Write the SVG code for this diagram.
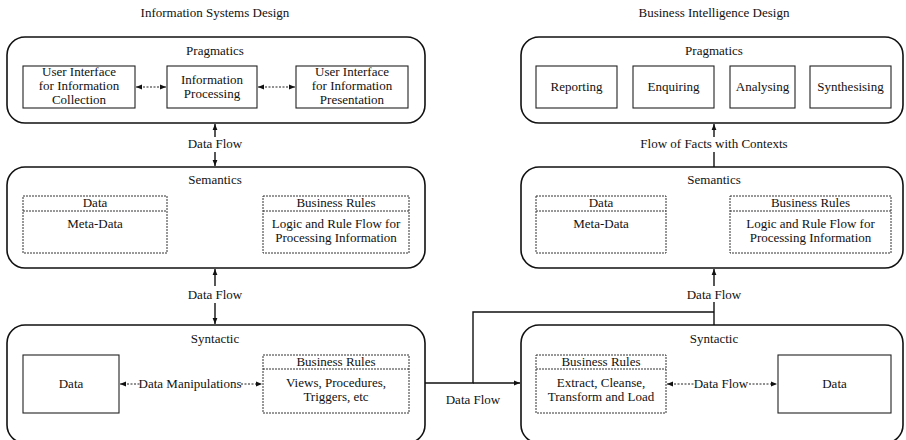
<svg xmlns="http://www.w3.org/2000/svg" width="906" height="440" viewBox="0 0 906 440">
<defs>
<marker id="ah" viewBox="0 0 10 10" refX="10" refY="5" markerWidth="6" markerHeight="6" orient="auto-start-reverse" markerUnits="userSpaceOnUse">
<path d="M0,1 L10,5 L0,9 z" fill="#111"/>
</marker>
<style>
text{font-family:'Liberation Serif','DejaVu Serif',serif;font-size:13px;fill:#111;text-anchor:middle}
.outer{fill:none;stroke:#111;stroke-width:1.6}
.box{fill:#fff;stroke:#222;stroke-width:1.1}
.dbox{fill:#fff;stroke:#333;stroke-width:1;stroke-dasharray:2,1}
.dl{stroke:#333;stroke-width:1;stroke-dasharray:2,1;fill:none}
.con{stroke:#111;stroke-width:1.4;fill:none}
.dcon{stroke:#222;stroke-width:1;stroke-dasharray:2,1.5;fill:none}
</style>
</defs>
<rect width="906" height="440" fill="#fff"/>
<g font-family="Liberation Serif, serif" font-size="13">
<text x="215" y="17">Information Systems Design</text>
<text x="714" y="17">Business Intelligence Design</text>

<g id="left-pragmatics">
<rect class="outer" x="7" y="37" width="418" height="86" rx="18"/>
<text x="215" y="55">Pragmatics</text>
<rect class="box" x="23" y="66" width="112" height="42"/>
<text x="79" y="76">User Interface</text>
<text x="79" y="90">for Information</text>
<text x="79" y="104">Collection</text>
<rect class="box" x="167" y="66" width="90" height="42"/>
<text x="212" y="84">Information</text>
<text x="212" y="98">Processing</text>
<rect class="box" x="296" y="66" width="112" height="42"/>
<text x="352" y="76">User Interface</text>
<text x="352" y="90">for Information</text>
<text x="352" y="104">Presentation</text>
</g>

<g id="left-semantics">
<rect class="outer" x="7" y="167" width="418" height="101" rx="18"/>
<text x="215" y="184">Semantics</text>
<rect class="dbox" x="23" y="196" width="144" height="57"/>
<line class="dl" x1="23" y1="211" x2="167" y2="211"/>
<text x="95" y="207">Data</text>
<text x="95" y="228">Meta-Data</text>
<rect class="dbox" x="263" y="196" width="146" height="57"/>
<line class="dl" x1="263" y1="211" x2="409" y2="211"/>
<text x="336" y="207">Business Rules</text>
<text x="336" y="228">Logic and Rule Flow for</text>
<text x="336" y="242">Processing Information</text>
</g>

<g id="left-syntactic">
<rect class="outer" x="7" y="325" width="418" height="118" rx="18"/>
<text x="215" y="343">Syntactic</text>
<rect class="box" x="23" y="355" width="96" height="58"/>
<text x="71" y="388">Data</text>
<rect class="dbox" x="263" y="355" width="146" height="58"/>
<line class="dl" x1="263" y1="369" x2="409" y2="369"/>
<text x="336" y="366">Business Rules</text>
<text x="336" y="387">Views, Procedures,</text>
<text x="336" y="401">Triggers, etc</text>
</g>

<g id="right-pragmatics">
<rect class="outer" x="521" y="37" width="382" height="86" rx="18"/>
<text x="714" y="55">Pragmatics</text>
<rect class="box" x="536" y="66" width="81" height="42"/>
<text x="576.5" y="91">Reporting</text>
<rect class="box" x="633" y="66" width="81" height="42"/>
<text x="673.5" y="91">Enquiring</text>
<rect class="box" x="730" y="66" width="65" height="42"/>
<text x="762.5" y="91">Analysing</text>
<rect class="box" x="810" y="66" width="81" height="42"/>
<text x="850.5" y="91">Synthesising</text>
</g>

<g id="right-semantics">
<rect class="outer" x="521" y="167" width="382" height="101" rx="18"/>
<text x="714" y="184">Semantics</text>
<rect class="dbox" x="536" y="196" width="130" height="57"/>
<line class="dl" x1="536" y1="211" x2="666" y2="211"/>
<text x="601" y="207">Data</text>
<text x="601" y="228">Meta-Data</text>
<rect class="dbox" x="730" y="196" width="161" height="57"/>
<line class="dl" x1="730" y1="211" x2="891" y2="211"/>
<text x="810.5" y="207">Business Rules</text>
<text x="810.5" y="228">Logic and Rule Flow for</text>
<text x="810.5" y="242">Processing Information</text>
</g>

<g id="right-syntactic">
<rect class="outer" x="521" y="325" width="382" height="118" rx="18"/>
<text x="714" y="343">Syntactic</text>
<rect class="dbox" x="536" y="355" width="130" height="58"/>
<line class="dl" x1="536" y1="369" x2="666" y2="369"/>
<text x="601" y="366">Business Rules</text>
<text x="601" y="387">Extract, Cleanse,</text>
<text x="601" y="401">Transform and Load</text>
<rect class="box" x="778" y="355" width="113" height="58"/>
<text x="834.5" y="388">Data</text>
</g>

<g id="connectors">
<line class="dcon" x1="136" y1="87" x2="166" y2="87" marker-start="url(#ah)" marker-end="url(#ah)"/>
<line class="dcon" x1="258" y1="87" x2="295" y2="87" marker-start="url(#ah)" marker-end="url(#ah)"/>
<line class="con" x1="215" y1="124" x2="215" y2="137" marker-start="url(#ah)"/>
<line class="con" x1="215" y1="152" x2="215" y2="166" marker-end="url(#ah)"/>
<text x="215" y="148">Data Flow</text>
<line class="con" x1="215" y1="269" x2="215" y2="286" marker-start="url(#ah)"/>
<line class="con" x1="215" y1="303" x2="215" y2="324" marker-end="url(#ah)"/>
<text x="215" y="299">Data Flow</text>
<line class="dcon" x1="120" y1="384" x2="140" y2="384" marker-start="url(#ah)"/>
<line class="dcon" x1="241" y1="384" x2="262" y2="384" marker-end="url(#ah)"/>
<text x="190" y="388">Data Manipulations</text>
<line class="dcon" x1="667" y1="384" x2="694" y2="384" marker-start="url(#ah)"/>
<line class="dcon" x1="749" y1="384" x2="777" y2="384" marker-end="url(#ah)"/>
<text x="721" y="388">Data Flow</text>
<line class="con" x1="714" y1="124" x2="714" y2="137" marker-start="url(#ah)"/>
<line class="con" x1="714" y1="152" x2="714" y2="167"/>
<text x="714" y="148">Flow of Facts with Contexts</text>
<line class="con" x1="714" y1="269" x2="714" y2="286" marker-start="url(#ah)"/>
<line class="con" x1="714" y1="302" x2="714" y2="325"/>
<text x="714" y="299">Data Flow</text>
<polyline class="con" points="425,383 473,383 473,312 714,312"/>
<line class="con" x1="473" y1="383" x2="520" y2="383" marker-end="url(#ah)"/>
<text x="473" y="404">Data Flow</text>
</g>
</g>
</svg>
